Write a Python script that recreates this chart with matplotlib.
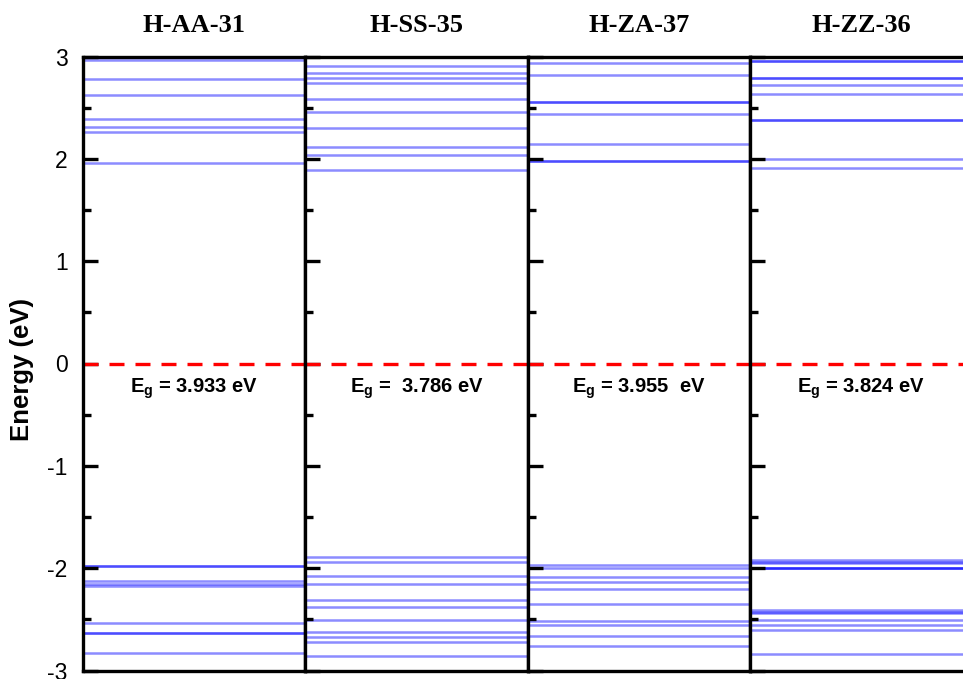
import matplotlib.pyplot as plt
from matplotlib.ticker import MultipleLocator

plt.rcParams['axes.unicode_minus'] = False

# panel names and band gaps
titles = ['H-AA-31', 'H-SS-35', 'H-ZA-37', 'H-ZZ-36']
gap_labels = ['3.933 eV', ' 3.786 eV', '3.955  eV', '3.824 eV']

# energy levels (eV) per panel, repeated values = overlapping (darker) lines
h_aa_31 = [2.966, 2.78, 2.624, 2.392, 2.314, 2.259, 1.962,
           -1.976, -1.976, -2.13, -2.15, -2.17, -2.539, -2.63, -2.63, -2.832]
h_ss_35 = [2.907, 2.836, 2.787, 2.738, 2.582, 2.461, 2.298, 2.113, 2.037, 1.89,
           -1.895, -1.943, -2.077, -2.158, -2.311, -2.376, -2.507, -2.621,
           -2.67, -2.718, -2.855]
h_za_37 = [2.94, 2.822, 2.559, 2.559, 2.438, 2.148, 1.982, 1.982,
           -1.972, -1.995, -2.083, -2.138, -2.204, -2.35, -2.516, -2.556,
           -2.66, -2.761]
h_zz_36 = [2.959, 2.959, 2.787, 2.787, 2.722, 2.63, 2.376, 2.376, 1.998, 1.907,
           -1.92, -1.935, -1.95, -2.001, -2.001, -2.001, -2.409, -2.425, -2.441,
           -2.507, -2.556, -2.604, -2.839]
levels = [h_aa_31, h_ss_35, h_za_37, h_zz_36]

fig = plt.figure(figsize=(9.63, 6.79), dpi=100)

left = 83 / 963
width = 222.3 / 963
bottom = 8.5 / 679
height = 614 / 679

for i in range(4):
    ax = fig.add_axes([left + i * width, bottom, width, height])
    for e in levels[i]:
        ax.axhline(e, color='#0000ff', alpha=0.45, lw=1.8, zorder=1)
    ax.axhline(0, color='red', lw=2.4, dashes=(4.5, 3.3), zorder=2)

    ax.set_xlim(0, 1)
    ax.set_ylim(-3, 3)
    ax.set_xticks([])
    ax.yaxis.set_major_locator(MultipleLocator(1))
    ax.yaxis.set_minor_locator(MultipleLocator(0.5))
    ax.tick_params(axis='y', which='major', direction='in', length=10.5, width=2.4,
                   labelsize=16.5, pad=11)
    ax.tick_params(axis='y', which='minor', direction='in', length=6, width=2.4)
    for sp in ax.spines.values():
        sp.set_linewidth(2.4)
        sp.set_zorder(5)

    if i == 0:
        for lab in ax.get_yticklabels():
            lab.set_family('Liberation Sans')
        ax.set_ylabel('Energy (eV)', fontsize=18.5, fontweight='bold',
                      family='Liberation Sans')
        ax.yaxis.set_label_coords(-0.22, 0.49)
    else:
        ax.tick_params(axis='y', labelleft=False)

    ax.text(0.5, 1.051, titles[i], transform=ax.transAxes, ha='center', va='center',
            fontsize=19, fontweight='bold', family='Liberation Serif')
    ax.text(0.5, -0.285, r'E$_\mathregular{g}$ = ' + gap_labels[i],
            transform=ax.get_yaxis_transform(), ha='center', va='baseline',
            fontsize=14.5, fontweight='bold', family='Liberation Sans')

fig.savefig('out.png', dpi=100)
